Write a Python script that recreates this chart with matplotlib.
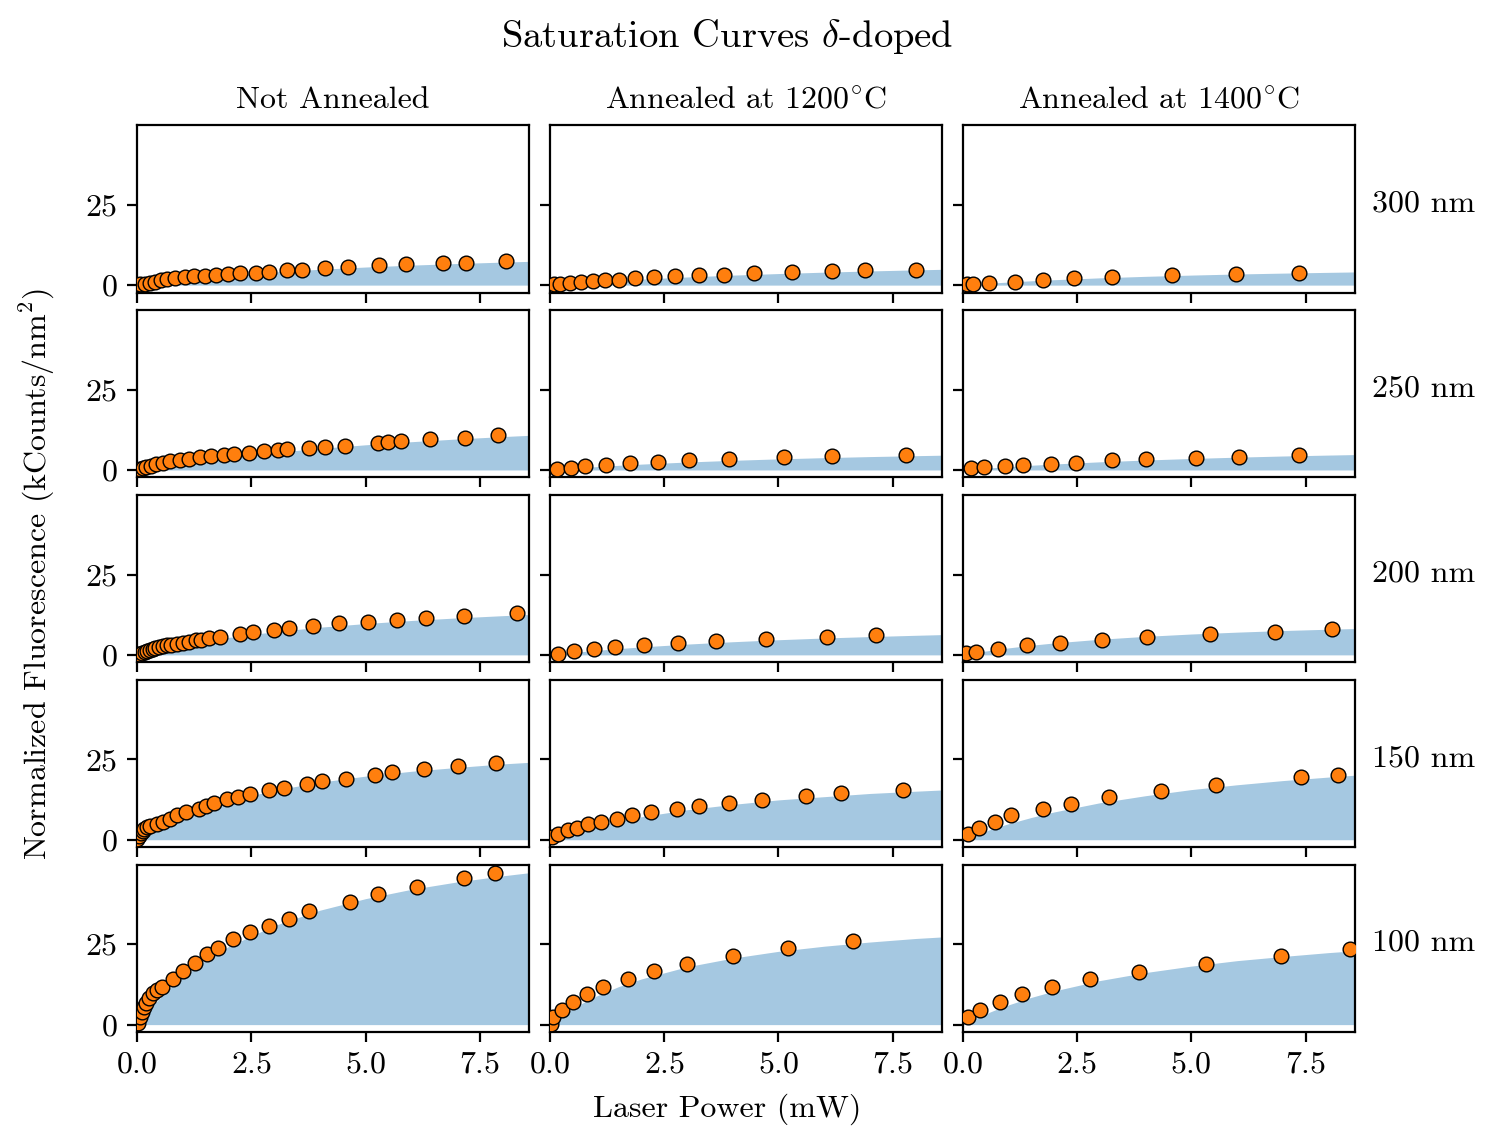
import matplotlib
matplotlib.use('Agg')
import matplotlib.pyplot as plt
import numpy as np

plt.rcParams['font.family'] = 'serif'
plt.rcParams['font.serif'] = ['cmr10']
plt.rcParams['mathtext.fontset'] = 'cm'
plt.rcParams['axes.formatter.use_mathtext'] = True
plt.rcParams['font.size'] = 11.5

depths = ['300 nm', '250 nm', '200 nm', '150 nm', '100 nm']
treatments = ['Not Annealed', r'Annealed at $1200^{\circ}\mathrm{C}$',
              r'Annealed at $1400^{\circ}\mathrm{C}$']

fit_p = [0, 0.1, 0.25, 0.5, 0.75, 1, 1.5, 2, 3, 4, 5, 6, 7, 8, 8.6]

# 300 nm
p_300_na = [0.07, 0.17, 0.28, 0.40, 0.52, 0.65, 0.83, 1.04, 1.24, 1.49, 1.72, 2.0, 2.25, 2.60,
            2.89, 3.27, 3.60, 4.10, 4.61, 5.29, 5.88, 6.68, 7.2, 8.06]
i_300_na = [0.2, 0.5, 0.8, 1.1, 1.5, 1.8, 2.1, 2.4, 2.7, 2.9, 3.2, 3.5, 3.7, 3.9,
            4.1, 4.6, 4.8, 5.2, 5.6, 6.3, 6.5, 6.8, 7.0, 7.4]
f_300_na = [0, 0.19, 0.47, 0.92, 1.33, 1.71, 2.41, 3.03, 4.08, 4.93, 5.63, 6.22, 6.72, 7.16, 7.4]

p_300_12 = [0.10, 0.23, 0.45, 0.68, 0.94, 1.21, 1.52, 1.87, 2.28, 2.73, 3.27, 3.82, 4.46, 5.30,
            6.18, 6.90, 8.01]
i_300_12 = [0.2, 0.4, 0.8, 1.0, 1.3, 1.6, 1.7, 2.1, 2.4, 2.7, 3.1, 3.3, 3.7, 4.0, 4.4, 4.6, 4.8]
f_300_12 = [0, 0.11, 0.28, 0.54, 0.79, 1.02, 1.45, 1.85, 2.53, 3.11, 3.60, 4.03, 4.41, 4.74, 4.92]

p_300_14 = [0.10, 0.23, 0.58, 1.15, 1.75, 2.44, 3.27, 4.58, 5.98, 7.35]
i_300_14 = [0.2, 0.4, 0.7, 1.1, 1.6, 2.1, 2.5, 3.0, 3.5, 3.9]
f_300_14 = [0, 0.11, 0.26, 0.51, 0.74, 0.95, 1.34, 1.68, 2.26, 2.73, 3.12, 3.46, 3.73, 3.97, 4.1]

# 250 nm
p_250_na = [0.07, 0.13, 0.20, 0.30, 0.42, 0.56, 0.71, 0.93, 1.14, 1.37, 1.61, 1.90, 2.13, 2.45,
            2.78, 3.09, 3.28, 3.75, 4.10, 4.55, 5.27, 5.49, 5.78, 6.40, 7.18, 7.90]
i_250_na = [0.2, 0.6, 1.0, 1.3, 1.8, 2.2, 2.7, 3.2, 3.5, 3.9, 4.2, 4.6, 5.0, 5.3,
            5.8, 6.1, 6.4, 6.8, 7.2, 7.5, 8.4, 8.6, 9.1, 9.6, 10.1, 10.8]
f_250_na = [0, 0.24, 0.58, 1.14, 1.66, 2.16, 3.10, 3.95, 5.45, 6.73, 7.84, 8.80, 9.65, 10.4, 10.8]

p_250_12 = [0.16, 0.47, 0.78, 1.23, 1.75, 2.36, 3.04, 3.92, 5.13, 6.18, 7.78]
i_250_12 = [0.2, 0.7, 1.2, 1.7, 2.2, 2.6, 3.0, 3.4, 4.0, 4.3, 4.8]
f_250_12 = [0, 0.11, 0.28, 0.54, 0.79, 1.02, 1.45, 1.83, 2.48, 3.01, 3.46, 3.84, 4.17, 4.45, 4.61]

p_250_14 = [0.18, 0.47, 0.92, 1.33, 1.93, 2.48, 3.27, 4.02, 5.11, 6.04, 7.35]
i_250_14 = [0.5, 0.8, 1.2, 1.6, 2.0, 2.3, 3.0, 3.4, 3.7, 4.0, 4.6]
f_250_14 = [0, 0.12, 0.28, 0.55, 0.80, 1.04, 1.47, 1.87, 2.54, 3.10, 3.58, 3.99, 4.35, 4.64, 4.8]

# 200 nm
p_200_na = [0.05, 0.11, 0.17, 0.22, 0.28, 0.34, 0.40, 0.48, 0.56, 0.65, 0.75, 0.87, 1.00, 1.14,
            1.28, 1.39, 1.57, 1.82, 2.25, 2.54, 2.99, 3.32, 3.85, 4.42, 5.04, 5.68, 6.31, 7.16, 8.31]
i_200_na = [0.2, 0.6, 0.9, 1.2, 1.6, 1.9, 2.1, 2.4, 2.7, 3.0, 3.2, 3.5, 3.8, 4.1,
            4.5, 4.7, 5.1, 5.6, 6.6, 7.1, 7.8, 8.3, 8.9, 9.8, 10.2, 11.0, 11.4, 12.0, 12.9]
f_200_na = [0, 0.36, 0.88, 1.69, 2.43, 3.12, 4.35, 5.43, 7.20, 8.61, 9.75, 10.7, 11.5, 12.2, 12.55]

p_200_12 = [0.19, 0.53, 0.97, 1.42, 2.05, 2.81, 3.63, 4.72, 6.06, 7.13]
i_200_12 = [0.4, 1.2, 1.8, 2.4, 3.1, 3.7, 4.3, 4.9, 5.5, 6.1]
f_200_12 = [0, 0.15, 0.38, 0.73, 1.06, 1.38, 1.95, 2.47, 3.35, 4.09, 4.71, 5.25, 5.69, 6.09, 6.31]

p_200_14 = [0.08, 0.29, 0.78, 1.40, 2.12, 3.04, 4.04, 5.40, 6.84, 8.07]
i_200_14 = [0.5, 0.9, 1.8, 3.0, 3.8, 4.6, 5.5, 6.5, 7.2, 8.1]
f_200_14 = [0, 0.25, 0.62, 1.18, 1.69, 2.16, 2.99, 3.71, 4.86, 5.76, 6.49, 7.07, 7.57, 7.98, 8.2]

# 150 nm
p_150_na = [0.01, 0.05, 0.08, 0.12, 0.16, 0.21, 0.28, 0.43, 0.56, 0.71, 0.88, 1.06, 1.36, 1.50,
            1.68, 1.97, 2.20, 2.48, 2.89, 3.21, 3.72, 4.05, 4.58, 5.20, 5.58, 6.28, 7.02, 7.84]
i_150_na = [0.2, 1.2, 2.0, 2.7, 3.3, 4.0, 4.3, 4.9, 5.6, 6.6, 7.7, 8.7, 9.5, 10.5,
            11.3, 12.6, 13.3, 14.2, 15.4, 16.2, 17.3, 18.2, 19.0, 20.1, 21.0, 22.0, 23.0, 24.0]
f_150_na = [0, 0.90, 2.17, 4.08, 5.78, 7.31, 9.92, 12.07, 15.4, 17.9, 19.8, 21.3, 22.5, 23.6, 24.1]

p_150_12 = [0.05, 0.19, 0.39, 0.59, 0.83, 1.11, 1.46, 1.80, 2.21, 2.78, 3.27, 3.92, 4.65, 5.60,
            6.37, 7.72]
i_150_12 = [0.7, 1.9, 2.9, 3.7, 4.8, 5.6, 6.6, 7.6, 8.6, 9.5, 10.5, 11.4, 12.4, 13.5, 14.4, 15.5]
f_150_12 = [0, 0.50, 1.21, 2.30, 3.29, 4.20, 5.79, 7.15, 9.33, 11.0, 12.4, 13.4, 14.4, 15.1, 15.5]

p_150_14 = [0.12, 0.36, 0.70, 1.05, 1.76, 2.38, 3.21, 4.35, 5.55, 7.40, 8.20]
i_150_14 = [1.8, 3.7, 5.6, 7.6, 9.5, 11.2, 13.3, 15.3, 17.1, 19.4, 20.0]
f_150_14 = [0, 0.57, 1.39, 2.68, 3.86, 4.96, 6.92, 8.64, 11.5, 13.7, 15.6, 17.1, 18.4, 19.5, 20.1]

# 100 nm
p_100_na = [0.03, 0.07, 0.10, 0.15, 0.20, 0.26, 0.34, 0.43, 0.54, 0.78, 1.00, 1.26, 1.54, 1.78,
            2.09, 2.47, 2.89, 3.33, 3.77, 4.65, 5.26, 6.13, 7.16, 7.83]
i_100_na = [0.4, 2.5, 4.0, 5.6, 6.8, 8.4, 9.75, 10.8, 11.6, 14.3, 16.7, 19.2, 21.9, 23.9,
            26.5, 28.7, 30.8, 33.0, 35.2, 38.3, 40.5, 42.9, 45.6, 47.2]
f_100_na = [0, 1.86, 4.46, 8.36, 11.8, 14.85, 20.0, 24.3, 30.8, 35.6, 39.2, 42.1, 44.4, 46.3, 47.3]

p_100_12 = [0.03, 0.08, 0.26, 0.50, 0.81, 1.16, 1.70, 2.27, 3.0, 4.01, 5.20, 6.63]
i_100_12 = [0.3, 2.3, 4.6, 7.1, 9.4, 11.8, 14.2, 16.6, 18.9, 21.3, 23.7, 26.0]
f_100_12 = [0, 1.11, 2.65, 4.96, 6.98, 8.77, 11.8, 14.2, 18.0, 20.7, 22.8, 24.4, 25.7, 26.8, 27.3]

p_100_14 = [0.12, 0.39, 0.81, 1.29, 1.95, 2.79, 3.85, 5.33, 6.96, 8.48]
i_100_14 = [2.3, 4.7, 7.05, 9.4, 11.8, 14.2, 16.5, 18.9, 21.3, 23.65]
f_100_14 = [0, 0.72, 1.75, 3.34, 4.79, 6.12, 8.46, 10.46, 13.7, 16.2, 18.2, 19.9, 21.2, 22.4, 23.0]

powers = [[p_300_na, p_300_12, p_300_14],
          [p_250_na, p_250_12, p_250_14],
          [p_200_na, p_200_12, p_200_14],
          [p_150_na, p_150_12, p_150_14],
          [p_100_na, p_100_12, p_100_14]]
counts = [[i_300_na, i_300_12, i_300_14],
          [i_250_na, i_250_12, i_250_14],
          [i_200_na, i_200_12, i_200_14],
          [i_150_na, i_150_12, i_150_14],
          [i_100_na, i_100_12, i_100_14]]
fits = [[f_300_na, f_300_12, f_300_14],
        [f_250_na, f_250_12, f_250_14],
        [f_200_na, f_200_12, f_200_14],
        [f_150_na, f_150_12, f_150_14],
        [f_100_na, f_100_12, f_100_14]]

fig, axes = plt.subplots(5, 3, sharex=True, sharey=True, figsize=(7.48, 5.715), dpi=200)
plt.subplots_adjust(left=0.0916, right=0.9057, top=0.8906, bottom=0.0971,
                    wspace=0.052, hspace=0.104)

for r in range(5):
    for c in range(3):
        ax = axes[r, c]
        ax.fill_between(fit_p, 0, fits[r][c], color='C0', alpha=0.4, linewidth=0)
        ax.scatter(powers[r][c], counts[r][c], s=28, color='C1',
                   edgecolors='k', linewidths=0.5, zorder=3)
        if r == 0:
            ax.set_title(treatments[c], fontsize=11.5)
        if c == 2:
            ax.text(1.043, 0.53, depths[r], transform=ax.transAxes,
                    ha='left', va='center', fontsize=11.5)

axes[0, 0].set_xlim(0, 8.58)
axes[0, 0].set_ylim(-2.3, 49.8)
axes[0, 0].set_xticks([0, 2.5, 5, 7.5])
axes[0, 0].set_yticks([0, 25])

fig.suptitle(r'Saturation Curves $\delta$-doped', x=0.486, y=0.985, fontsize=13.9)
fig.supxlabel('Laser Power (mW)', x=0.486, y=0.016, fontsize=11.5)
fig.supylabel(r'Normalized Fluorescence (kCounts/nm$^2$)', x=0.012, y=0.498, fontsize=11.5)

plt.savefig('out.png', dpi=200)
